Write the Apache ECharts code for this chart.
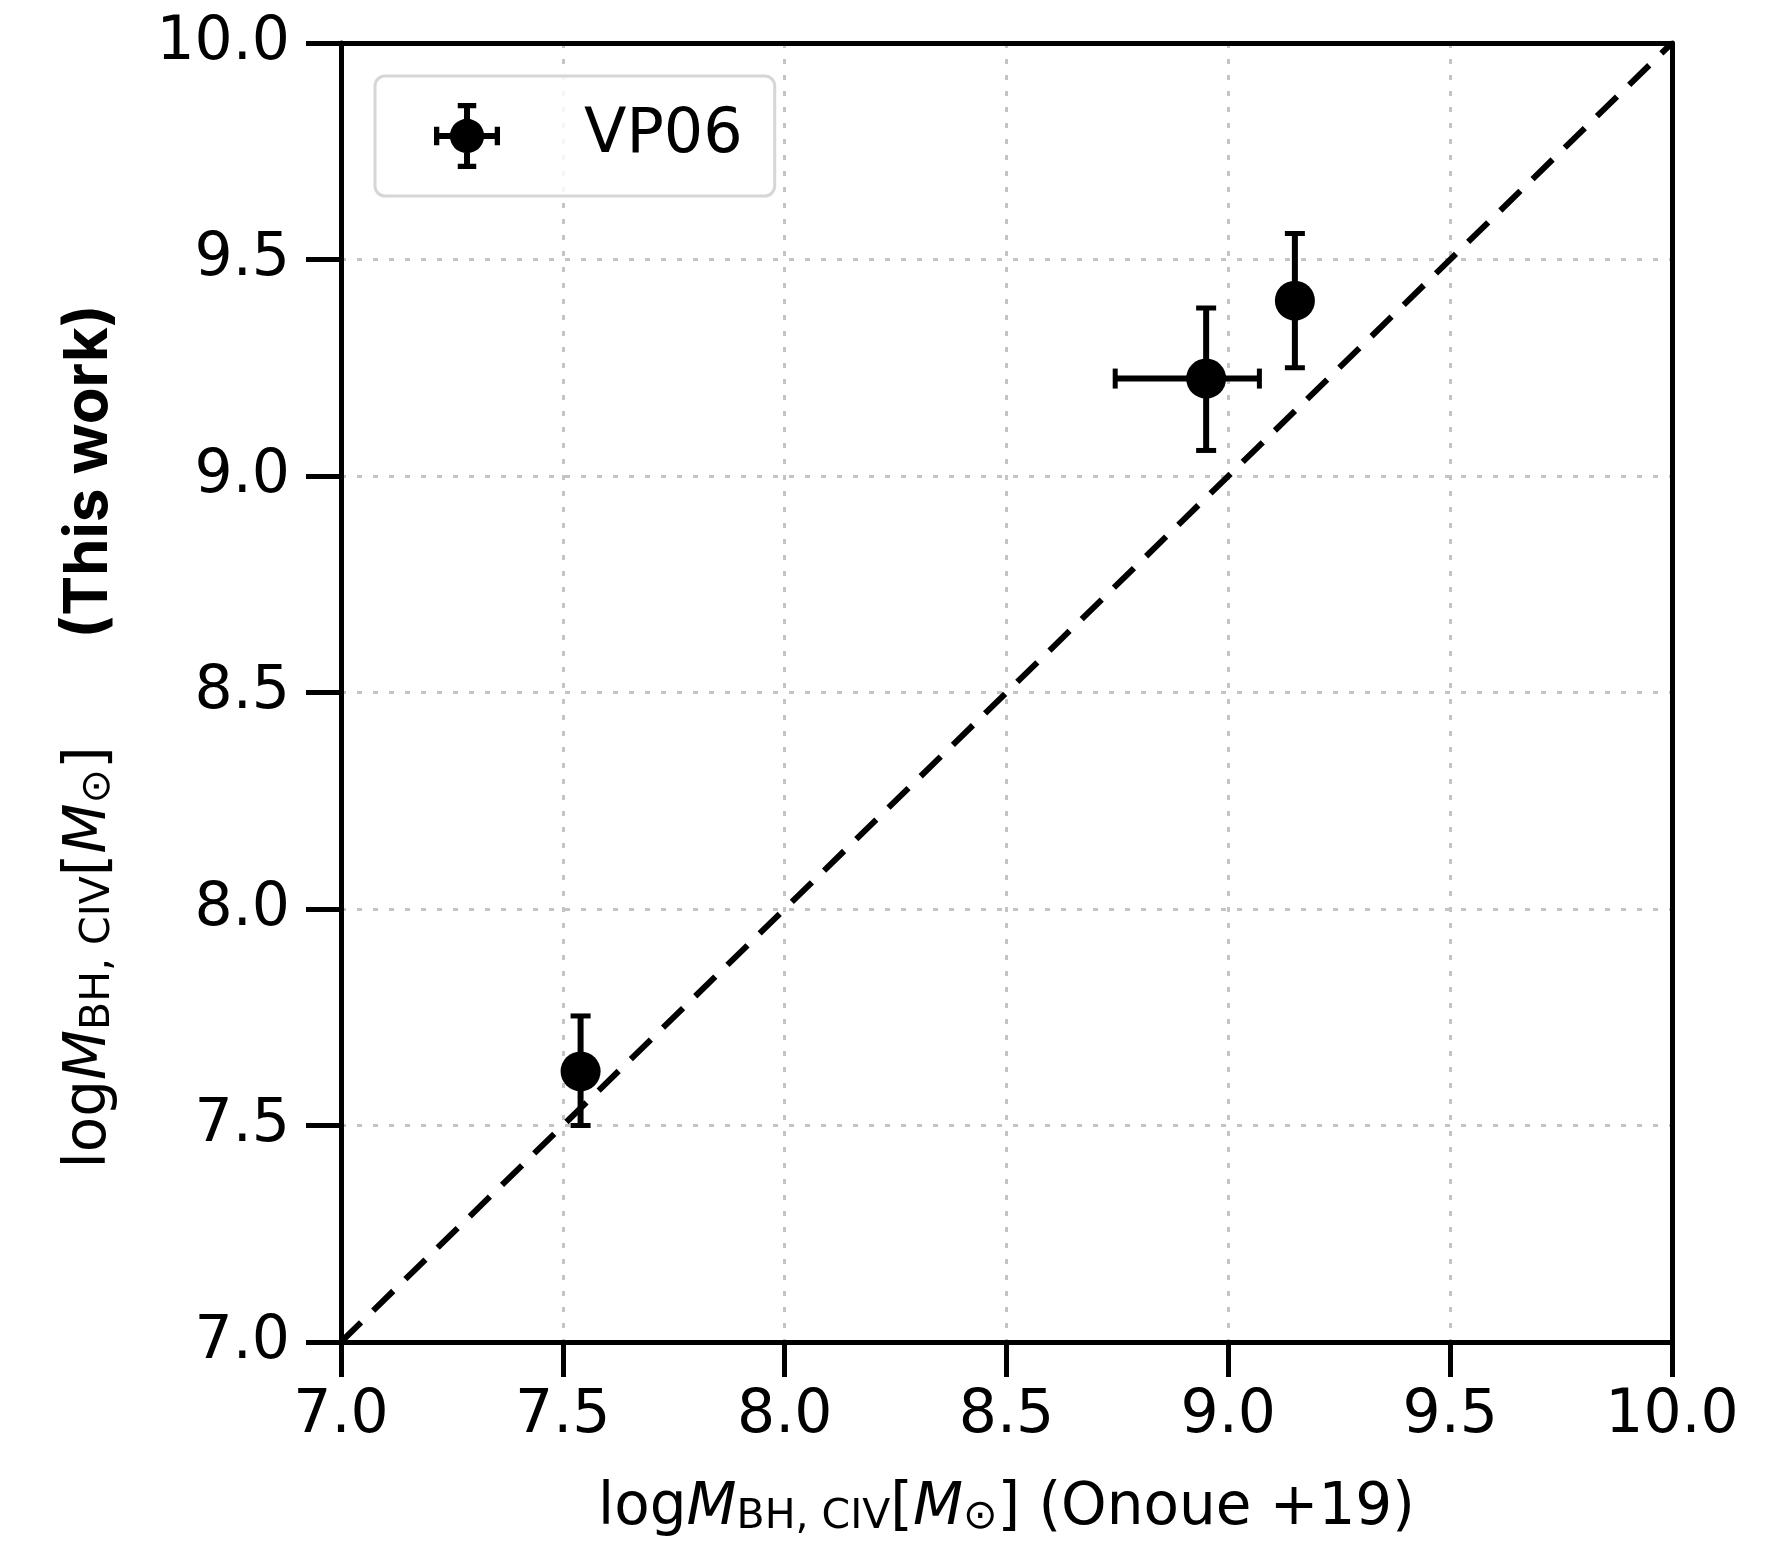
<!DOCTYPE html>
<html>
<head>
<meta charset="utf-8">
<script src="https://cdn.jsdelivr.net/npm/echarts@6/dist/echarts.min.js"></script>
<style>
  html, body { margin: 0; padding: 0; background: #ffffff; }
  #chart { width: 1783px; height: 1547px; }
</style>
</head>
<body>
<div id="chart"></div>
<script>
// ---- data ----
const seriesName = 'VP06';
const massOnoue = [7.54, 8.95, 9.15];        // x: log M_BH,CIV (Onoue+19)
const massThisWork = [7.625, 9.225, 9.405];  // y: log M_BH,CIV (this work)
const xErrLow = [0.0, 0.205, 0.0];
const xErrHigh = [0.0, 0.12, 0.0];
const yErrLow = [0.125, 0.166, 0.155];
const yErrHigh = [0.128, 0.163, 0.155];
const axisMin = 7.0;
const axisMax = 10.0;
const tickStep = 0.5;
const oneToOne = [[7.0, 7.0], [10.0, 10.0]];

const pointData = massOnoue.map((x, i) => [x, massThisWork[i]]);
const errData = massOnoue.map((x, i) => [x, massThisWork[i], xErrLow[i], xErrHigh[i], yErrLow[i], yErrHigh[i]]);

const FONT = 'DejaVu Sans';
const AXW = 5;

const legendIcon = 'path://M0,45.5 H100 V54.5 H0 Z M0,36 H8 V64 H0 Z M92,36 H100 V64 H92 Z ' +
  'M45.5,0 H54.5 V100 H45.5 Z M36,0 H64 V8 H36 Z M36,92 H64 V100 H36 Z ' +
  'M24,50 A26,26 0 1,1 76,50 A26,26 0 1,1 24,50 Z';

const nameRich = {
  n: { fontFamily: FONT, fontSize: 58, color: '#000', lineHeight: 68, verticalAlign: 'bottom' },
  i: { fontFamily: FONT, fontStyle: 'italic', fontSize: 58, color: '#000', lineHeight: 68, verticalAlign: 'bottom' },
  s: { fontFamily: FONT, fontSize: 41, color: '#000', lineHeight: 36, verticalAlign: 'bottom' },
  g: { width: 108 },
  b: { fontFamily: 'Inter', fontWeight: 'bold', fontSize: 60, color: '#000', lineHeight: 68, verticalAlign: 'bottom' }
};

const chart = echarts.init(document.getElementById('chart'), null, { renderer: 'canvas' });

function errorBars(params, api) {
  const x = api.value(0), y = api.value(1);
  const xl = api.value(2), xh = api.value(3), yl = api.value(4), yh = api.value(5);
  const cap = 10;
  const style = { stroke: '#000', lineWidth: 6, fill: null };
  const capStyle = { stroke: '#000', lineWidth: 5, fill: null };
  const children = [];
  if (xl + xh > 0) {
    const a = api.coord([x - xl, y]);
    const b = api.coord([x + xh, y]);
    children.push({ type: 'line', shape: { x1: a[0], y1: a[1], x2: b[0], y2: b[1] }, style });
    children.push({ type: 'line', shape: { x1: a[0], y1: a[1] - cap, x2: a[0], y2: a[1] + cap }, style: capStyle });
    children.push({ type: 'line', shape: { x1: b[0], y1: b[1] - cap, x2: b[0], y2: b[1] + cap }, style: capStyle });
  }
  if (yl + yh > 0) {
    const a = api.coord([x, y - yl]);
    const b = api.coord([x, y + yh]);
    children.push({ type: 'line', shape: { x1: a[0], y1: a[1], x2: b[0], y2: b[1] }, style });
    children.push({ type: 'line', shape: { x1: a[0] - cap, y1: a[1], x2: a[0] + cap, y2: a[1] }, style: capStyle });
    children.push({ type: 'line', shape: { x1: b[0] - cap, y1: b[1], x2: b[0] + cap, y2: b[1] }, style: capStyle });
  }
  return { type: 'group', children };
}

function axisCommon() {
  return {
    type: 'value',
    min: axisMin,
    max: axisMax,
    interval: tickStep,
    axisLine: { show: true, onZero: false, lineStyle: { color: '#000', width: AXW } },
    axisTick: { show: true, inside: false, length: 35, lineStyle: { color: '#000', width: AXW } },
    axisLabel: {
      show: true, color: '#000', fontFamily: FONT, fontSize: 60,
      showMinLabel: true, showMaxLabel: true,
      formatter: v => v.toFixed(1)
    },
    splitLine: { show: true, lineStyle: { color: '#c4c4c4', width: 3, type: [5, 11] } },
    z: 1
  };
}

function frameAxis(position) {
  return {
    type: 'value', position: position,
    min: axisMin, max: axisMax, interval: tickStep,
    axisLine: { show: true, onZero: false, lineStyle: { color: '#000', width: AXW } },
    axisTick: { show: false }, axisLabel: { show: false }, splitLine: { show: false },
    z: 5
  };
}

const xAxis = axisCommon();
xAxis.position = 'bottom';
xAxis.axisLabel.margin = 44;
xAxis.name = '{n|log}{i|M}{s|BH, CIV}{n|[}{i|M}{s|⊙}{n|] (Onoue +19)}';
xAxis.nameLocation = 'middle';
xAxis.nameGap = 128;
xAxis.nameTextStyle = { rich: nameRich };

const yAxis = axisCommon();
yAxis.position = 'left';
yAxis.axisLabel.margin = 51;
yAxis.name = '{n|log}{i|M}{s|BH, CIV}{n|[}{i|M}{s|⊙}{n|]}{g|}{b|(This work)}';
yAxis.nameLocation = 'middle';
yAxis.nameRotate = 90;
yAxis.nameGap = 222;
yAxis.nameTextStyle = { rich: nameRich, padding: [0, 88, 0, 0] };

chart.setOption({
  backgroundColor: '#ffffff',
  animation: false,
  grid: {
    left: 341, right: 111, top: 43, bottom: 205,
    show: false
  },
  xAxis: [xAxis, frameAxis('top')],
  yAxis: [yAxis, frameAxis('right')],
  legend: {
    show: true,
    left: 375, top: 76,
    orient: 'horizontal',
    data: [{ name: seriesName, icon: legendIcon }],
    itemWidth: 70, itemHeight: 66,
    padding: [27, 32, 27, 59],
    backgroundColor: 'rgba(255,255,255,0.85)',
    borderColor: '#d6d6d6', borderWidth: 3, borderRadius: 10,
    textStyle: { fontFamily: FONT, fontSize: 62, color: '#000', padding: [0, 0, 0, 77] },
    selectedMode: false
  },
  series: [
    {
      name: 'one-to-one',
      type: 'line',
      data: oneToOne,
      symbol: 'none',
      silent: true,
      z: 2,
      lineStyle: { color: '#000', width: 6, type: [28, 17] }
    },
    {
      name: 'errors',
      type: 'custom',
      data: errData,
      renderItem: errorBars,
      silent: true,
      z: 3
    },
    {
      name: seriesName,
      type: 'scatter',
      data: pointData,
      symbol: 'circle',
      symbolSize: 40,
      z: 4,
      itemStyle: { color: '#000', opacity: 1 }
    }
  ]
});
</script>
</body>
</html>
